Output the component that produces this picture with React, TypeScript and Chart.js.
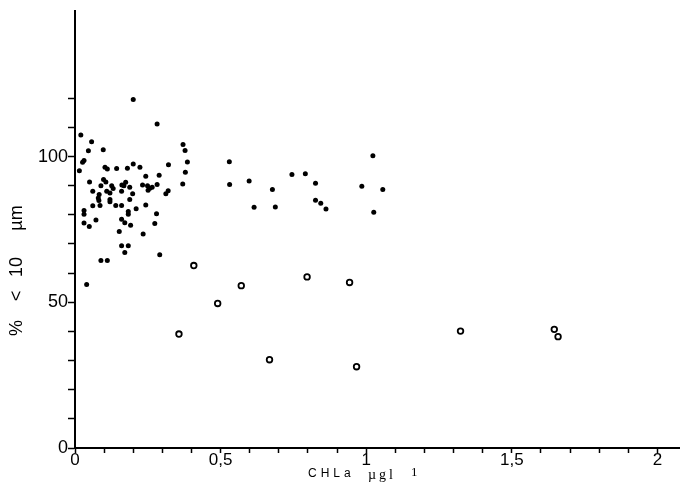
import React, { useEffect, useRef } from "react";
import { Chart, registerables } from "chart.js";

Chart.register(...registerables);

// Filled dots
const filledX = [
  0.200, 0.282, 0.020, 0.057, 0.046, 0.097, 0.031, 0.026, 0.015, 0.371,
  0.378, 0.386, 0.379, 0.370, 0.321, 0.200, 0.223, 0.180, 0.143, 0.103,
  0.111, 0.243, 0.289, 0.050, 0.098, 0.106, 0.089, 0.126, 0.131, 0.161,
  0.174, 0.168, 0.188, 0.232, 0.249, 0.257, 0.251, 0.265, 0.282, 0.061,
  0.109, 0.120, 0.160, 0.198, 0.320, 0.312, 0.083, 0.080, 0.082, 0.086,
  0.120, 0.120, 0.188, 0.061, 0.140, 0.160, 0.243, 0.210, 0.031, 0.031,
  0.183, 0.183, 0.280, 0.072, 0.160, 0.171, 0.031, 0.049, 0.191, 0.274,
  0.152, 0.234, 0.160, 0.183, 0.171, 0.291, 0.089, 0.111, 0.040, 0.530,
  0.531, 0.598, 0.678, 0.615, 0.688, 0.745, 0.791, 0.826, 0.826, 0.844,
  0.862, 1.023, 0.985, 1.057, 1.026,
];
const filledY = [
  119.6, 111.2, 107.4, 105.1, 102.0, 102.3, 98.6, 98.0, 95.1, 104.1,
  102.1, 98.1, 94.6, 90.6, 97.2, 97.4, 96.3, 96.0, 95.9, 96.3,
  95.7, 93.2, 93.6, 91.3, 92.1, 91.3, 90.0, 90.0, 89.0, 90.2,
  91.2, 90.0, 89.5, 90.2, 90.0, 89.1, 88.4, 89.5, 90.4, 88.1,
  88.1, 87.5, 88.1, 87.2, 88.3, 87.2, 87.0, 85.8, 84.9, 83.2,
  85.3, 84.5, 85.3, 83.1, 83.2, 83.2, 83.4, 82.1, 81.5, 80.2,
  81.1, 80.2, 80.4, 78.2, 78.5, 77.3, 77.2, 76.0, 76.4, 77.0,
  74.3, 73.4, 69.4, 69.4, 67.1, 66.3, 64.3, 64.3, 56.1, 98.2,
  90.4, 91.6, 88.7, 82.6, 82.7, 93.8, 94.1, 90.8, 85.0, 84.0,
  82.0, 100.3, 89.8, 88.7, 80.9,
];

// Open circles
const openX = [0.357, 0.408, 0.490, 0.571, 0.668, 0.797, 0.943, 0.967, 1.324, 1.646, 1.659];
const openY = [39.1, 62.6, 49.6, 55.7, 30.3, 58.7, 56.8, 27.9, 40.1, 40.7, 38.2];

const xTickValues = [0, 0.1, 0.2, 0.3, 0.4, 0.5, 0.6, 0.7, 0.8, 0.9, 1, 1.1, 1.2, 1.3, 1.4, 1.5, 1.6, 1.7, 1.8, 1.9, 2];
const xTickLabels: Record<string, string> = { "0": "0", "0.5": "0,5", "1": "1", "1.5": "1,5", "2": "2" };
const yTickValues = [0, 10, 20, 30, 40, 50, 60, 70, 80, 90, 100, 110, 120];
const yTickLabels: Record<string, string> = { "0": "0", "50": "50", "100": "100" };

const yTitleParts = ["%", "<", "10", "µm"];
const xTitleMain = "CHLa";
const xTitleUnit = "µgl";
const xTitleExp = "1";

export default function App() {
  const ref = useRef<HTMLCanvasElement | null>(null);

  useEffect(() => {
    if (!ref.current) return;
    const titles = {
      id: "titles",
      afterDraw(chart: any) {
        const ctx = chart.ctx as CanvasRenderingContext2D;
        ctx.save();
        ctx.fillStyle = "#000";
        // y title (rotated)
        ctx.save();
        ctx.translate(17, 0);
        ctx.rotate(-Math.PI / 2);
        ctx.font = "18px 'Liberation Sans', Arial, sans-serif";
        ctx.textAlign = "center";
        ctx.textBaseline = "middle";
        const yCenters = [328, 296, 267, 218];
        yTitleParts.forEach((t, i) => ctx.fillText(t, -yCenters[i], 0));
        ctx.restore();
        // x title
        ctx.textBaseline = "alphabetic";
        ctx.textAlign = "left";
        ctx.font = "12px 'Liberation Sans', Arial, sans-serif";
        (ctx as any).letterSpacing = "4px";
        ctx.fillText(xTitleMain, 308, 477);
        ctx.font = "14px 'Liberation Serif', 'Times New Roman', serif";
        (ctx as any).letterSpacing = "3px";
        ctx.fillText(xTitleUnit, 368, 479);
        (ctx as any).letterSpacing = "0px";
        ctx.font = "13px 'Liberation Serif', 'Times New Roman', serif";
        ctx.fillText(xTitleExp, 411, 476);
        ctx.restore();
      },
    };

    const chart = new Chart(ref.current, {
      type: "scatter",
      data: {
        datasets: [
          {
            data: filledX.map((x, i) => ({ x, y: filledY[i] })),
            pointRadius: 2.5,
            pointBackgroundColor: "#000",
            pointBorderColor: "#000",
            pointBorderWidth: 0,
          },
          {
            data: openX.map((x, i) => ({ x, y: openY[i] })),
            pointRadius: 2.8,
            pointBackgroundColor: "#fff",
            pointBorderColor: "#000",
            pointBorderWidth: 1.8,
          },
        ],
      },
      options: {
        responsive: false,
        animation: false,
        layout: { padding: { top: 8, left: 0, right: 0, bottom: 0 } },
        plugins: { legend: { display: false }, tooltip: { enabled: false } },
        scales: {
          x: {
            type: "linear",
            min: 0,
            max: 2.075,
            afterBuildTicks: (s: any) => {
              s.ticks = xTickValues.map((v) => ({ value: v }));
            },
            afterFit: (s: any) => {
              s.height = 48;
            },
            border: { display: true, color: "#000", width: 2 },
            grid: { drawOnChartArea: false, drawTicks: true, tickLength: 5, tickColor: "#000", tickWidth: 1.5 },
            ticks: {
              autoSkip: false,
              maxRotation: 0,
              padding: -3,
              color: "#000",
              font: { family: "'Liberation Sans', Arial, sans-serif", size: 17 },
              callback: (v: any) => xTickLabels[String(Math.round(Number(v) * 10) / 10)] ?? "",
            },
          },
          y: {
            type: "linear",
            min: 0,
            max: 150,
            afterBuildTicks: (s: any) => {
              s.ticks = yTickValues.map((v) => ({ value: v }));
            },
            afterFit: (s: any) => {
              s.width = 75;
            },
            border: { display: true, color: "#000", width: 2 },
            grid: { drawOnChartArea: false, drawTicks: true, tickLength: 7, tickColor: "#000", tickWidth: 1.5 },
            ticks: {
              autoSkip: false,
              padding: 0,
              color: "#000",
              font: { family: "'Liberation Sans', Arial, sans-serif", size: 18 },
              callback: (v: any) => yTickLabels[String(Math.round(Number(v)))] ?? "",
            },
          },
        },
      },
      plugins: [titles],
    });
    return () => chart.destroy();
  }, []);

  return (
    <div style={{ position: "absolute", left: 0, top: 0, width: 685, height: 496, background: "#fff" }}>
      <canvas ref={ref} width={685} height={496} style={{ display: "block" }} />
    </div>
  );
}
